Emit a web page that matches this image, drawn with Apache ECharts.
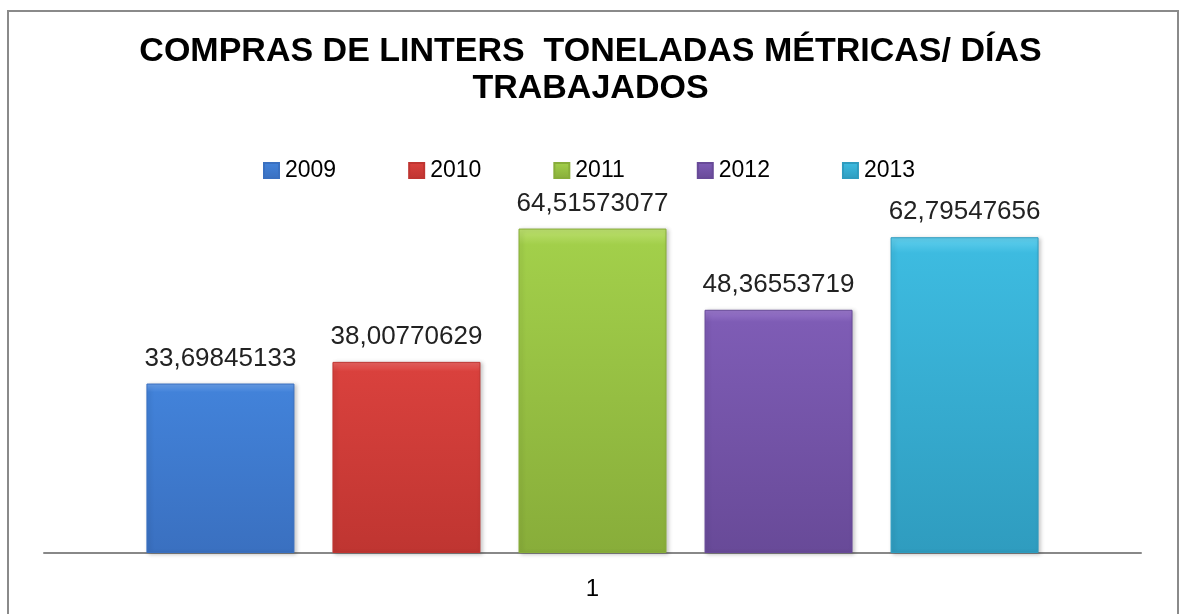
<!DOCTYPE html>
<html>
<head>
<meta charset="utf-8">
<script src="https://cdn.jsdelivr.net/npm/echarts@6/dist/echarts.min.js"></script>
<style>
html, body { margin: 0; padding: 0; background: #fff; }
#chart { width: 1181px; height: 614px; }
</style>
</head>
<body>
<div id="chart"></div>
<script>
// datos
var categorias = ['1'];
var anios = ['2009', '2010', '2011', '2012', '2013'];
var valores = [33.69845133, 38.00770629, 64.51573077, 48.36553719, 62.79547656];
var colores = [
    ['#6aa0ea', '#4282d9', '#3a70c0'],
    ['#ea6461', '#d9413d', '#bf3531'],
    ['#bde070', '#a2cf4a', '#88ad3a'],
    ['#9a78cc', '#7e5cb5', '#684a98'],
    ['#62d0ee', '#3dbbe0', '#2f9cbf']
];

var myChart = echarts.init(document.getElementById('chart'));

var series = anios.map(function (anio, i) {
    var c = colores[i];
    return {
        name: anio,
        type: 'bar',
        barWidth: 148,
        barGap: '25.7%',
        data: [valores[i]],
        itemStyle: {
            color: new echarts.graphic.LinearGradient(0, 0, 0, 1, [
                { offset: 0, color: c[0] },
                { offset: 0.05, color: c[1] },
                { offset: 1, color: c[2] }
            ]),
            borderColor: c[2],
            borderWidth: 1,
            shadowColor: 'rgba(0,0,0,0.22)',
            shadowBlur: 4,
            shadowOffsetX: 2,
            shadowOffsetY: 1
        },
        label: {
            show: true,
            position: 'top',
            distance: 12,
            color: '#222',
            fontFamily: 'Liberation Sans',
            fontSize: 26,
            formatter: function (p) {
                return String(p.value).replace('.', ',');
            }
        }
    };
});

myChart.setOption({
    animation: false,
    backgroundColor: '#fff',
    title: {
        text: 'COMPRAS DE LINTERS  TONELADAS MÉTRICAS/ DÍAS\nTRABAJADOS',
        left: 'center',
        top: 28,
        textStyle: {
            fontFamily: 'Liberation Sans',
            fontWeight: 'bold',
            fontSize: 34,
            lineHeight: 37,
            color: '#000'
        }
    },
    legend: {
        data: anios,
        left: 258,
        top: 154,
        icon: 'rect',
        itemWidth: 15,
        itemHeight: 15,
        itemGap: 72,
        textStyle: {
            fontFamily: 'Liberation Sans',
            fontSize: 23,
            color: '#000',
            padding: [0, 0, 0, 1]
        }
    },
    grid: { left: 44, right: 40, top: 201, bottom: 61 },
    xAxis: {
        type: 'category',
        data: categorias,
        axisLine: { lineStyle: { color: '#888', width: 2 } },
        axisTick: { show: false },
        axisLabel: {
            margin: 24,
            fontFamily: 'Liberation Sans',
            fontSize: 24,
            color: '#000'
        }
    },
    yAxis: {
        type: 'value',
        min: 0,
        max: 70,
        show: false
    },
    graphic: [{
        type: 'rect',
        shape: { x: 8, y: 11, width: 1170, height: 640 },
        style: { fill: 'none', stroke: '#8a8a8a', lineWidth: 2 },
        z: 100
    }],
    series: series
});
</script>
</body>
</html>
